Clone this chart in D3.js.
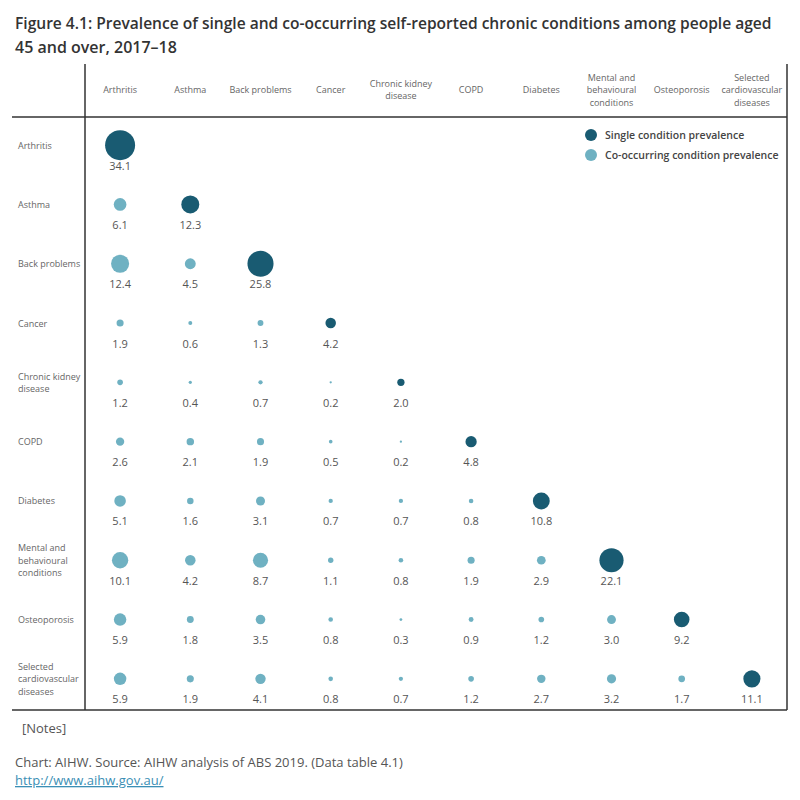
<!DOCTYPE html>
<html>
<head>
<meta charset="utf-8">
<script src="https://cdn.jsdelivr.net/npm/d3@7"></script>
<style>
  body { margin: 0; background: #fff; font-family: "Open Sans", "Noto Sans", sans-serif; }
  svg { display: block; }
</style>
</head>
<body>
<svg id="chart"></svg>
<script>
// Chart size
const width = 800;
const height = 800;

// Conditions (rows and columns)
const conditions = [
  'Arthritis', 'Asthma', 'Back problems', 'Cancer', 'Chronic kidney disease',
  'COPD', 'Diabetes', 'Mental and behavioural conditions', 'Osteoporosis',
  'Selected cardiovascular diseases'
];

// Wrapped header / row labels
const colLabels = [
  ['Arthritis'], ['Asthma'], ['Back problems'], ['Cancer'], ['Chronic kidney', 'disease'],
  ['COPD'], ['Diabetes'], ['Mental and', 'behavioural', 'conditions'], ['Osteoporosis'],
  ['Selected', 'cardiovascular', 'diseases']
];
const rowLabels = [
  ['Arthritis'], ['Asthma'], ['Back problems'], ['Cancer'], ['Chronic kidney', 'disease'],
  ['COPD'], ['Diabetes'], ['Mental and', 'behavioural', 'conditions'], ['Osteoporosis'],
  ['Selected', 'cardiovascular', 'diseases']
];

// Prevalence (%) - lower triangle, last value of each row is the single condition
const arthritisRow = [34.1];
const asthmaRow = [6.1, 12.3];
const backRow = [12.4, 4.5, 25.8];
const cancerRow = [1.9, 0.6, 1.3, 4.2];
const kidneyRow = [1.2, 0.4, 0.7, 0.2, 2.0];
const copdRow = [2.6, 2.1, 1.9, 0.5, 0.2, 4.8];
const diabetesRow = [5.1, 1.6, 3.1, 0.7, 0.7, 0.8, 10.8];
const mentalRow = [10.1, 4.2, 8.7, 1.1, 0.8, 1.9, 2.9, 22.1];
const osteoRow = [5.9, 1.8, 3.5, 0.8, 0.3, 0.9, 1.2, 3.0, 9.2];
const cardioRow = [5.9, 1.9, 4.1, 0.8, 0.7, 1.2, 2.7, 3.2, 1.7, 11.1];

const rows = [arthritisRow, asthmaRow, backRow, cancerRow, kidneyRow,
  copdRow, diabetesRow, mentalRow, osteoRow, cardioRow];

const legendLabels = ['Single condition prevalence', 'Co-occurring condition prevalence'];

// Flatten into cells
const cells = [];
rows.forEach((vals, i) => {
  vals.forEach((v, j) => {
    cells.push({ row: conditions[i], col: conditions[j], value: v, single: i === j });
  });
});

const colors = { single: '#195b72', co: '#6fb1c2' };

const svg = d3.select('#chart')
  .attr('width', width)
  .attr('height', height);

// Title - squeeze horizontally to the reference width
function titleLine(str, yPos, targetWidth) {
  const t = svg.append('text')
    .attr('font-size', 16.5).attr('font-weight', 600).attr('fill', '#333')
    .text(str);
  const w = t.node().getComputedTextLength();
  const k = Math.min(1, targetWidth / w);
  t.attr('transform', `translate(15,${yPos}) scale(${k},1)`);
}
titleLine('Figure 4.1: Prevalence of single and co-occurring self-reported chronic conditions among people aged', 29, 757);
titleLine('45 and over, 2017–18', 53, 162);

// Scales
const gridLeft = 85, gridRight = 787, gridTop = 117, gridBottom = 710;
const x = d3.scaleBand().domain(conditions).range([gridLeft, gridRight]);
const y = d3.scaleBand().domain(conditions).range([gridTop, gridBottom]);
const r = d3.scaleSqrt().domain([0, 34.1]).range([0, 15]);

// Grid lines
const lineColor = '#333';
svg.append('line').attr('x1', gridLeft).attr('x2', gridLeft).attr('y1', 64).attr('y2', gridBottom)
  .attr('stroke', lineColor).attr('stroke-width', 1.5);
svg.append('line').attr('x1', gridRight).attr('x2', gridRight).attr('y1', 64).attr('y2', gridBottom)
  .attr('stroke', lineColor).attr('stroke-width', 1.5);
svg.append('line').attr('x1', 12).attr('x2', gridRight).attr('y1', gridTop).attr('y2', gridTop)
  .attr('stroke', lineColor).attr('stroke-width', 1.5);
svg.append('line').attr('x1', 12).attr('x2', gridRight).attr('y1', gridBottom).attr('y2', gridBottom)
  .attr('stroke', lineColor).attr('stroke-width', 1.5);

// Column headers
const lineH = 12.5;
svg.append('g').selectAll('text')
  .data(conditions)
  .enter().append('text')
    .attr('x', d => x(d) + x.bandwidth() / 2)
    .attr('text-anchor', 'middle')
    .attr('font-size', 9).attr('fill', '#666')
    .each(function(d, i) {
      const lines = colLabels[i];
      const y0 = 93 - (lines.length - 1) * lineH / 2;
      d3.select(this).selectAll('tspan')
        .data(lines)
        .enter().append('tspan')
          .attr('x', x(d) + x.bandwidth() / 2)
          .attr('y', (l, k) => y0 + k * lineH)
          .text(l => l);
    });

// Row labels
svg.append('g').selectAll('text')
  .data(conditions)
  .enter().append('text')
    .attr('font-size', 9).attr('fill', '#666')
    .each(function(d, i) {
      const lines = rowLabels[i];
      const cy = y(d) + y.bandwidth() / 2 - 1;
      const y0 = cy + 3 - (lines.length - 1) * lineH / 2;
      d3.select(this).selectAll('tspan')
        .data(lines)
        .enter().append('tspan')
          .attr('x', 18)
          .attr('y', (l, k) => y0 + k * lineH)
          .text(l => l);
    });

// Bubbles
svg.append('g').selectAll('circle')
  .data(cells)
  .enter().append('circle')
    .attr('cx', d => x(d.col) + x.bandwidth() / 2)
    .attr('cy', d => y(d.row) + y.bandwidth() / 2 - 1.5)
    .attr('r', d => r(d.value))
    .attr('fill', d => d.single ? colors.single : colors.co);

// Value labels
svg.append('g').selectAll('text')
  .data(cells)
  .enter().append('text')
    .attr('x', d => x(d.col) + x.bandwidth() / 2)
    .attr('y', d => y(d.row) + y.bandwidth() / 2 + 23)
    .attr('text-anchor', 'middle')
    .attr('font-size', 11).attr('fill', '#555')
    .text(d => d3.format('.1f')(d.value));

// Legend
const legend = svg.append('g').selectAll('g')
  .data(legendLabels)
  .enter().append('g')
    .attr('transform', (d, i) => `translate(591,${135 + i * 20})`);
legend.append('circle')
  .attr('r', 6)
  .attr('fill', (d, i) => i === 0 ? colors.single : colors.co);
legend.append('text')
  .attr('x', 14).attr('y', 4)
  .attr('font-size', 10.5).attr('font-weight', 600).attr('fill', '#444')
  .text(d => d);

// Footer
svg.append('text')
  .attr('x', 22).attr('y', 733)
  .attr('font-size', 13).attr('fill', '#555')
  .text('[Notes]');
svg.append('text')
  .attr('x', 15).attr('y', 767)
  .attr('font-size', 13).attr('fill', '#555')
  .text('Chart: AIHW. Source: AIHW analysis of ABS 2019. (Data table 4.1)');
svg.append('text')
  .attr('x', 15).attr('y', 785)
  .attr('font-size', 13).attr('fill', '#3b8fb5')
  .attr('text-decoration', 'underline')
  .text('http://www.aihw.gov.au/');
</script>
</body>
</html>
